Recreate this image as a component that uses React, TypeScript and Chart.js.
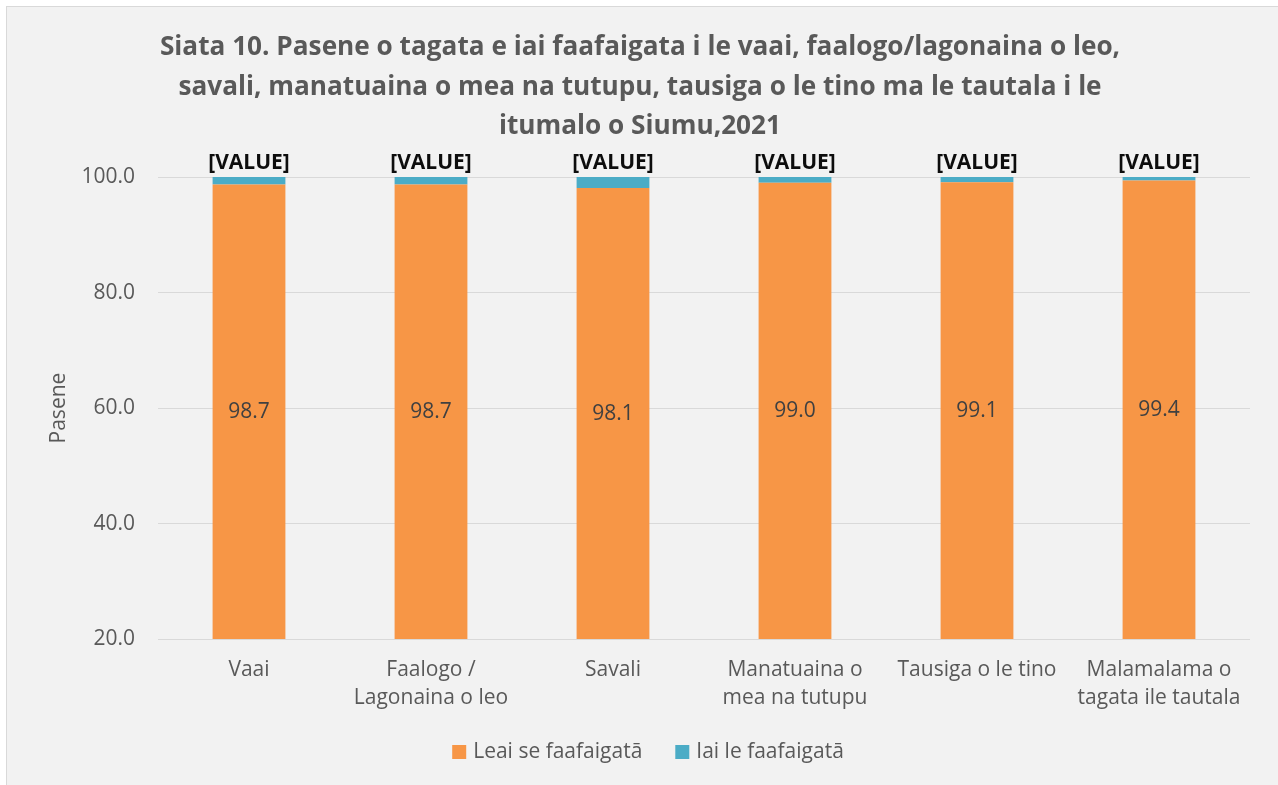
import React, { useEffect, useRef } from 'react';
import { Chart, registerables } from 'chart.js';

Chart.register(...registerables);

const titleLines = [
  'Siata 10. Pasene o tagata e iai faafaigata i le vaai, faalogo/lagonaina o leo,',
  'savali, manatuaina o mea na tutupu, tausiga o le tino ma le tautala i le',
  'itumalo o Siumu,2021',
];
const categories = [
  ['Vaai'],
  ['Faalogo /', 'Lagonaina o leo'],
  ['Savali'],
  ['Manatuaina o', 'mea na tutupu'],
  ['Tausiga o le tino'],
  ['Malamalama o', 'tagata ile tautala'],
];
const seriesNames = ['Leai se faafaigatā', 'Iai le faafaigatā'];
const seriesColors = ['#F79646', '#4BACC6'];
const noDifficulty = [98.7, 98.7, 98.1, 99.0, 99.1, 99.4];
const withDifficulty = [1.3, 1.3, 1.9, 1.0, 0.9, 0.6];
const yTicks = [20, 40, 60, 80, 100];
const topLabel = '[VALUE]';
const yTitle = 'Pasene';

const FONT = '"Open Sans", "DejaVu Sans", sans-serif';

const labelPlugin = {
  id: 'barLabels',
  afterDatasetsDraw(chart: any) {
    const ctx = chart.ctx;
    const area = chart.chartArea;
    const m0 = chart.getDatasetMeta(0);
    const m1 = chart.getDatasetMeta(1);
    ctx.save();
    ctx.textAlign = 'center';
    ctx.textBaseline = 'middle';
    ctx.font = `21px ${FONT}`;
    ctx.fillStyle = '#404040';
    m0.data.forEach((bar: any, i: number) => {
      const p = bar.getProps(['x', 'y', 'base'], true);
      const bottom = Math.min(p.base, area.bottom);
      const top = Math.max(p.y, area.top);
      ctx.fillText(noDifficulty[i].toFixed(1), p.x, (top + bottom) / 2);
    });
    ctx.font = `bold 21px ${FONT}`;
    ctx.fillStyle = '#0d0d0d';
    m1.data.forEach((bar: any) => {
      const p = bar.getProps(['x', 'y'], true);
      ctx.fillText(topLabel, p.x, p.y - 14);
    });
    ctx.restore();
  },
};

// Legend drawn below the axis, Excel style (small square, gap between items)
const legendPlugin = {
  id: 'bottomLegend',
  afterDraw(chart: any) {
    const ctx = chart.ctx;
    const ds = chart.data.datasets;
    const box = 14;
    const gapBoxText = 7;
    const gapItems = 33;
    ctx.save();
    ctx.font = `21px ${FONT}`;
    ctx.textBaseline = 'middle';
    ctx.textAlign = 'left';
    const widths = ds.map((d: any) => ctx.measureText(d.label).width);
    const total = widths.reduce((s: number, w: number) => s + box + gapBoxText + w, 0) + gapItems * (ds.length - 1);
    const centerX = 648;
    const cy = chart.height - 33;
    let x = centerX - total / 2;
    ds.forEach((d: any, i: number) => {
      ctx.fillStyle = d.backgroundColor;
      ctx.fillRect(x, cy - box / 2, box, box);
      x += box + gapBoxText;
      ctx.fillStyle = '#595959';
      ctx.fillText(d.label, x, cy);
      x += widths[i] + gapItems;
    });
    ctx.restore();
  },
};

export default function App() {
  const ref = useRef<HTMLCanvasElement | null>(null);

  useEffect(() => {
    if (!ref.current) return;
    Chart.defaults.font.family = FONT;
    const chart = new Chart(ref.current, {
      type: 'bar',
      data: {
        labels: categories as any,
        datasets: [
          {
            label: seriesNames[0],
            data: noDifficulty,
            backgroundColor: seriesColors[0],
            barPercentage: 0.4,
            categoryPercentage: 1,
          },
          {
            label: seriesNames[1],
            data: withDifficulty,
            backgroundColor: seriesColors[1],
            barPercentage: 0.4,
            categoryPercentage: 1,
          },
        ],
      },
      options: {
        animation: false,
        responsive: false,
        maintainAspectRatio: false,
        layout: { padding: { left: 30, right: 28, top: 0, bottom: 50 } },
        scales: {
          x: {
            stacked: true,
            grid: { display: false, drawTicks: false },
            border: { display: false },
            ticks: {
              color: '#595959',
              font: { size: 21, lineHeight: 1.333 },
              padding: 17,
              maxRotation: 0,
              autoSkip: false,
            },
            afterFit: (scale: any) => {
              scale.height = 96;
            },
          },
          y: {
            stacked: true,
            min: 20,
            max: 100,
            grid: { color: '#d9d9d9', lineWidth: 1, drawTicks: false },
            border: { display: false },
            ticks: {
              color: '#595959',
              font: { size: 21 },
              padding: 23,
              callback: (v: any) => Number(v).toFixed(1),
            },
            afterBuildTicks: (scale: any) => {
              scale.ticks = yTicks.map((v) => ({ value: v }));
            },
            afterFit: (scale: any) => {
              scale.width = 128;
            },
            title: {
              display: true,
              text: yTitle,
              color: '#595959',
              font: { size: 21, lineHeight: 1.2 },
              padding: { top: 16.6, bottom: 0 },
            },
          },
        },
        plugins: {
          title: {
            display: true,
            text: titleLines,
            color: '#595959',
            font: { size: 26.2, weight: 'bold', lineHeight: 1.51 },
            padding: { top: 28, bottom: 30.4 },
          },
          legend: { display: false },
          tooltip: { enabled: false },
        },
      } as any,
      plugins: [labelPlugin, legendPlugin],
    });
    return () => chart.destroy();
  }, []);

  return (
    <div style={{ position: 'absolute', top: 0, left: 0, width: 1278, height: 785, background: '#ffffff', overflow: 'hidden' }}>
      <div
        style={{
          position: 'absolute',
          top: 6,
          left: 6,
          right: 0,
          bottom: 0,
          background: '#f2f2f2',
          borderTop: '1px solid #d9d9d9',
          borderLeft: '1px solid #d9d9d9',
        }}
      />
      <canvas ref={ref} width={1278} height={785} style={{ position: 'absolute', top: 0, left: 0 }} />
    </div>
  );
}
